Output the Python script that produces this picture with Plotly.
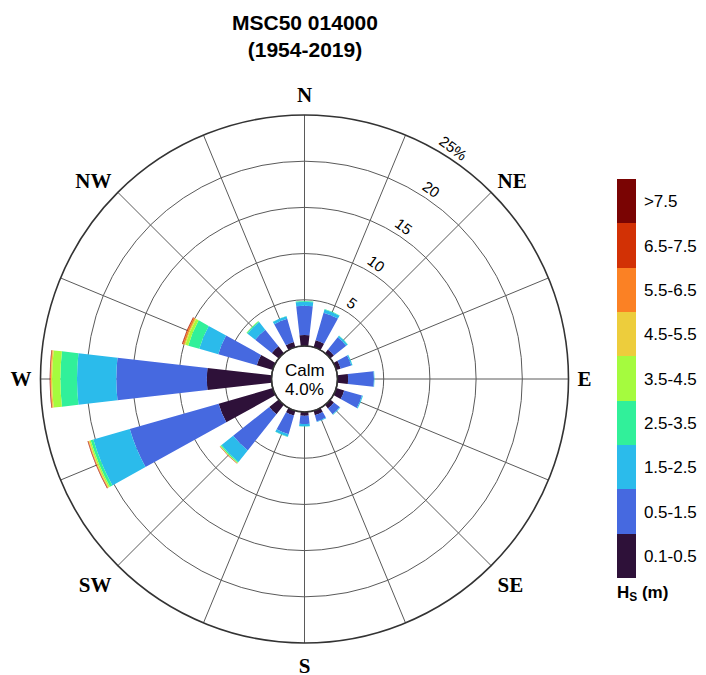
import plotly.graph_objects as go

# ---- data: percentage occurrence by direction and significant wave height class ----
directions = [0, 22.5, 45, 67.5, 90, 112.5, 135, 157.5,
              180, 202.5, 225, 247.5, 270, 292.5, 315, 337.5]

hs_classes = ["0.1-0.5", "0.5-1.5", "1.5-2.5", "2.5-3.5", "3.5-4.5",
              "4.5-5.5", "5.5-6.5", "6.5-7.5", ">7.5"]

class_colors = ["#2e1139", "#4669e0", "#2bbbeb", "#31f09a", "#a5fb3e",
                "#edcd3c", "#fb8124", "#d23105", "#7a0403"]

#                 N    NNE   NE   ENE   E    ESE   SE   SSE   S    SSW   SW    WSW   W     WNW   NW    NNW
hs_01_05 = [1.20, 0.80, 0.50, 0.50, 1.15, 0.90, 0.50, 0.50, 0.40, 0.55, 1.30, 6.10, 7.00, 1.80, 0.95, 0.60]
hs_05_15 = [3.15, 3.10, 1.70, 1.20, 2.80, 2.00, 0.80, 0.70, 0.90, 2.10, 5.00, 10.0, 9.80, 4.33, 2.30, 2.60]
hs_15_25 = [0.45, 0.35, 0.20, 0.12, 0.05, 0.10, 0.08, 0.07, 0.25, 0.28, 1.60, 4.10, 4.25, 2.15, 1.05, 0.28]
hs_25_35 = [0.06, 0.05, 0.03, 0.02, 0.01, 0.02, 0.01, 0.01, 0.03, 0.04, 0.12, 0.30, 1.80, 1.24, 0.12, 0.03]
hs_35_45 = [0.00, 0.00, 0.00, 0.00, 0.00, 0.00, 0.00, 0.00, 0.00, 0.00, 0.06, 0.15, 0.90, 0.33, 0.03, 0.00]
hs_45_55 = [0.00, 0.00, 0.00, 0.00, 0.00, 0.00, 0.00, 0.00, 0.00, 0.00, 0.03, 0.08, 0.12, 0.15, 0.01, 0.00]
hs_55_65 = [0.00, 0.00, 0.00, 0.00, 0.00, 0.00, 0.00, 0.00, 0.00, 0.00, 0.02, 0.05, 0.06, 0.12, 0.00, 0.00]
hs_65_75 = [0.00, 0.00, 0.00, 0.00, 0.00, 0.00, 0.00, 0.00, 0.00, 0.00, 0.02, 0.05, 0.05, 0.08, 0.00, 0.00]
hs_gt_75 = [0.00, 0.00, 0.00, 0.00, 0.00, 0.00, 0.00, 0.00, 0.00, 0.00, 0.01, 0.03, 0.03, 0.03, 0.00, 0.00]

calm_pct = 4.0

compass_ticks = ["N", "", "NE", "", "E", "", "SE", "",
                 "S", "", "SW", "", "W", "", "NW", ""]
ring_vals = [5, 10, 15, 20, 25]
ring_text = ["5", "10", "15", "20", "25%"]
r_max = 25

series = [hs_01_05, hs_05_15, hs_15_25, hs_25_35, hs_35_45,
          hs_45_55, hs_55_65, hs_65_75, hs_gt_75]

# ---- layout geometry (pixels) ----
W, H = 706, 675
CX, CY = 304.5, 379.0          # rose centre, from top-left
R_OUT = 264.0                  # outer ring radius
R_HOLE = 33.0                  # calm circle radius
LABEL_OUT = 9.5                # ring labels sit just outside each ring
SANS = "Liberation Sans, Arial, sans-serif"
SERIF = "Liberation Serif, Times New Roman, serif"


def domain(radius):
    cy_b = H - CY
    return dict(x=[(CX - radius) / W, (CX + radius) / W],
                y=[(cy_b - radius) / H, (cy_b + radius) / H])


# second (label-only) polar: same px-per-percent scale, shifted outward
px_per_pct = (R_OUT - R_HOLE) / r_max
r2_max = 27.0
R2 = R_HOLE + LABEL_OUT + px_per_pct * r2_max
hole2 = (R_HOLE + LABEL_OUT) / R2

# discrete colour scale for the height classes
n_cls = len(hs_classes)
colorscale = []
for i, c in enumerate(class_colors):
    colorscale.append([i / n_cls, c])
    colorscale.append([(i + 1) / n_cls, c])

fig = go.Figure()
for k, vals in enumerate(series):
    fig.add_trace(go.Barpolar(
        r=vals, theta=directions, width=13,
        name=hs_classes[k],
        marker=dict(color=[k + 0.5] * len(vals), coloraxis="coloraxis",
                    line=dict(width=0)),
        subplot="polar", showlegend=False, hoverinfo="skip",
    ))

# empty trace so the label polar is drawn
fig.add_trace(go.Scatterpolar(r=[], theta=[], subplot="polar2",
                              showlegend=False, hoverinfo="skip"))

bar_top, bar_bottom = 179.0, 577.0
title_room = 28.0

fig.update_layout(
    width=W, height=H,
    margin=dict(l=0, r=0, t=0, b=0),
    paper_bgcolor="white", plot_bgcolor="white",
    font=dict(family=SANS, color="black"),
    polar=dict(
        domain=domain(R_OUT),
        hole=R_HOLE / R_OUT,
        bgcolor="white",
        barmode="stack",
        radialaxis=dict(range=[0, r_max], tickmode="array", tickvals=ring_vals,
                        showticklabels=False, ticks="", showline=False,
                        showgrid=True, gridcolor="#5a5a5a", gridwidth=1),
        angularaxis=dict(rotation=90, direction="clockwise",
                         tickmode="array", tickvals=directions,
                         ticktext=[f"<b>{t}</b>" if t else "" for t in compass_ticks],
                         tickfont=dict(family=SERIF, size=21, color="black"),
                         ticks="outside", ticklen=4, tickcolor="rgba(0,0,0,0)",
                         showline=True, linecolor="#333333", linewidth=1.6,
                         showgrid=True, gridcolor="#5a5a5a", gridwidth=1),
    ),
    polar2=dict(
        domain=domain(R2),
        hole=hole2,
        bgcolor="rgba(0,0,0,0)",
        radialaxis=dict(range=[0, r2_max], tickmode="array", tickvals=ring_vals,
                        ticktext=ring_text, angle=53.5, tickangle=90,
                        side="counterclockwise",
                        tickfont=dict(family=SANS, size=15, color="black"),
                        showline=False, showgrid=False, ticks=""),
        angularaxis=dict(visible=False, rotation=90, direction="clockwise"),
    ),
    coloraxis=dict(
        colorscale=colorscale, cmin=0, cmax=n_cls,
        colorbar=dict(
            x=617 / W, xanchor="left", xpad=0,
            y=1 - bar_top / H, yanchor="top", ypad=0,
            len=(bar_bottom - bar_top + title_room) / H, lenmode="fraction",
            thickness=19, thicknessmode="pixels",
            outlinewidth=0,
            tickmode="array", tickvals=[i + 0.5 for i in range(n_cls)],
            ticktext=hs_classes,
            ticks="outside", ticklen=5, tickcolor="rgba(0,0,0,0)",
            tickfont=dict(family=SANS, size=17, color="black"),
            title=dict(text="<b>H<sub>S</sub> (m)</b>", side="bottom",
                       font=dict(family=SANS, size=17, color="black")),
        ),
    ),
    shapes=[dict(type="circle", xref="paper", yref="paper",
                 xsizemode="pixel", ysizemode="pixel",
                 xanchor=CX / W, yanchor=1 - CY / H,
                 x0=-R_HOLE, x1=R_HOLE, y0=-R_HOLE, y1=R_HOLE,
                 line=dict(color="#333333", width=1.2))],
    annotations=[
        dict(text="<b>MSC50 014000<br>(1954-2019)</b>",
             x=CX / W, y=1 - 9 / H, xref="paper", yref="paper",
             xanchor="center", yanchor="top", showarrow=False,
             font=dict(size=21, family=SANS, color="black")),
        dict(text="Calm", x=CX / W, y=1 - CY / H, xref="paper", yref="paper",
             showarrow=False, yshift=8.5, font=dict(size=17, family=SANS)),
        dict(text=f"{calm_pct:.1f}%", x=CX / W, y=1 - CY / H, xref="paper",
             yref="paper", showarrow=False, yshift=-10.5,
             font=dict(size=17, family=SANS)),
    ],
)

fig.write_html("out.html")
